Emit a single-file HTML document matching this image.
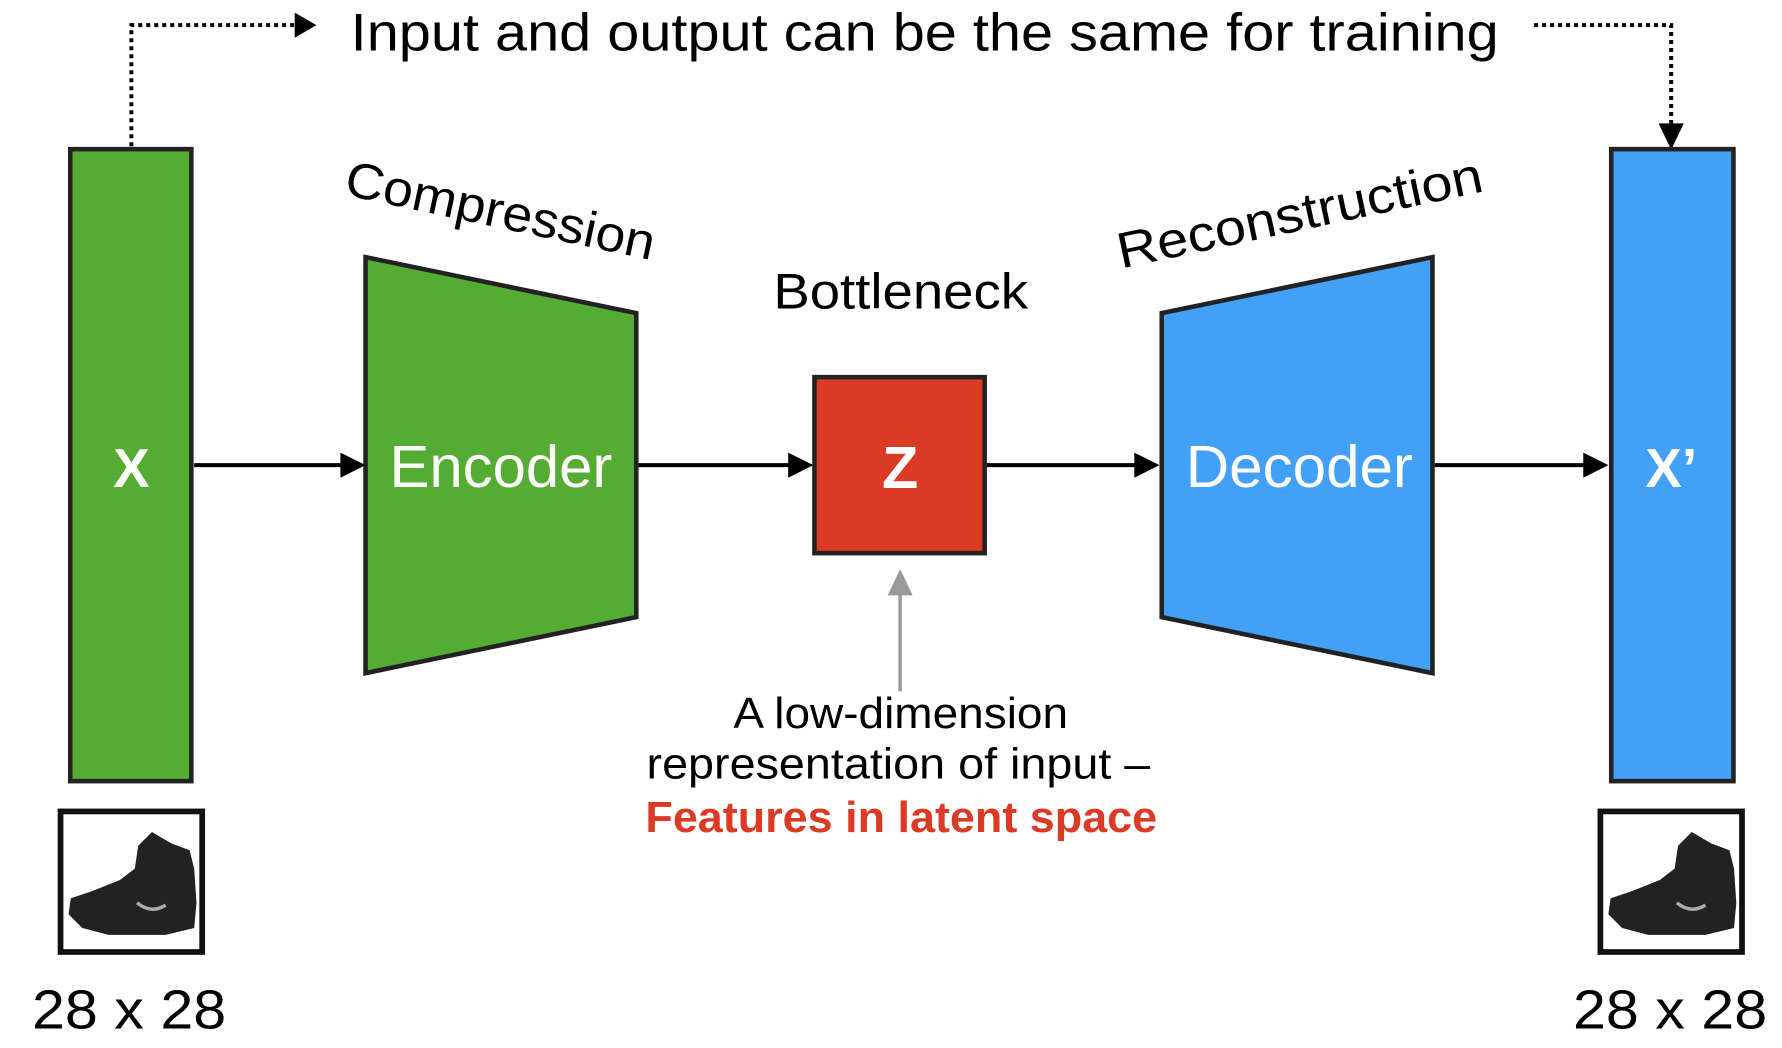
<!DOCTYPE html>
<html><head><meta charset="utf-8"><style>
html,body{margin:0;padding:0;background:#fff;}
svg{display:block;}
text{font-family:"Liberation Sans",Arial,sans-serif;}
</style></head><body>
<svg width="1782" height="1048" viewBox="0 0 1560 917" preserveAspectRatio="none" xmlns="http://www.w3.org/2000/svg">
<path d="M115,128 V22 H258" fill="none" stroke="#000" stroke-width="3.5" stroke-dasharray="3.5 3.5"/>
<path d="M258,11 L277,22 L258,33 z" fill="#000"/>
<path d="M1343,22 H1463 V108" fill="none" stroke="#000" stroke-width="3.5" stroke-dasharray="3.5 3.5"/>
<path d="M1452,108 L1463,131 L1474,108 z" fill="#000"/>
<text x="307" y="44" font-size="46" textLength="1005" lengthAdjust="spacingAndGlyphs" fill="#000">Input and output can be the same for training</text>

<rect x="61.5" y="130.5" width="106" height="553" fill="#55AC33" stroke="#222" stroke-width="4"/>
<rect x="1410.5" y="130.5" width="107" height="553" fill="#42A1F6" stroke="#222" stroke-width="4"/>
<text x="115" y="426" font-size="48" font-weight="bold" fill="#fff" text-anchor="middle">X</text>
<text x="1463" y="426" font-size="48" font-weight="bold" fill="#fff" text-anchor="middle">X’</text>

<polygon points="320,225 557,274 557,540 320,589" fill="#55AC33" stroke="#222" stroke-width="4"/>
<polygon points="1017,274 1254,225 1254,589 1017,540" fill="#42A1F6" stroke="#222" stroke-width="4"/>
<text x="341" y="426" font-size="52" fill="#fff" textLength="195" lengthAdjust="spacingAndGlyphs">Encoder</text>
<text x="1038" y="426" font-size="52" fill="#fff" textLength="199" lengthAdjust="spacingAndGlyphs">Decoder</text>

<rect x="713" y="330" width="149" height="154" fill="#DB3A25" stroke="#222" stroke-width="4"/>
<text x="788" y="427" font-size="52" font-weight="bold" fill="#fff" text-anchor="middle">Z</text>

<text x="300" y="199" font-size="44" textLength="276" lengthAdjust="spacingAndGlyphs" transform="rotate(12 437 185)">Compression</text>
<text x="975" y="202" font-size="44" textLength="326" lengthAdjust="spacingAndGlyphs" transform="rotate(-12 1135 188)">Reconstruction</text>
<text x="677" y="270" font-size="44" textLength="223" lengthAdjust="spacingAndGlyphs">Bottleneck</text>

<g stroke="#000" stroke-width="3.5">
<line x1="170" y1="407" x2="302" y2="407"/>
<line x1="559" y1="407" x2="695" y2="407"/>
<line x1="864" y1="407" x2="998" y2="407"/>
<line x1="1256" y1="407" x2="1390" y2="407"/>
</g>
<g fill="#000">
<path d="M298,396 L320,407 L298,418 z"/>
<path d="M690,396 L712,407 L690,418 z"/>
<path d="M993,396 L1015,407 L993,418 z"/>
<path d="M1386,396 L1408,407 L1386,418 z"/>
</g>
<line x1="788" y1="605" x2="788" y2="518" stroke="#999" stroke-width="3"/>
<path d="M777,521 L788,498 L799,521 z" fill="#999"/>

<text x="642" y="637" font-size="38" textLength="293" lengthAdjust="spacingAndGlyphs">A low-dimension</text>
<text x="566" y="681" font-size="38" textLength="441" lengthAdjust="spacingAndGlyphs">representation of input –</text>
<text x="565" y="728" font-size="38" font-weight="bold" fill="#DB3A25" textLength="448" lengthAdjust="spacingAndGlyphs">Features in latent space</text>

<g id="boot">
<rect x="53" y="710" width="124" height="123" fill="#fff" stroke="#111" stroke-width="5"/>
<path d="M121,740 L133,728 L150,738 L166,744 L170,760 L172,790 L170,812 L145,818 L95,818 L72,812 L60,800 L62,786 L80,780 L105,770 L118,760 z" fill="#222"/>
<path d="M120,790 Q132,800 145,792" stroke="#aaa" stroke-width="3" fill="none"/>
</g>
<use href="#boot" transform="translate(1348,0)"/>

<text x="28" y="900" font-size="48" textLength="170" lengthAdjust="spacingAndGlyphs">28 x 28</text>
<text x="1377" y="900" font-size="48" textLength="170" lengthAdjust="spacingAndGlyphs">28 x 28</text>
</svg>
</body></html>
